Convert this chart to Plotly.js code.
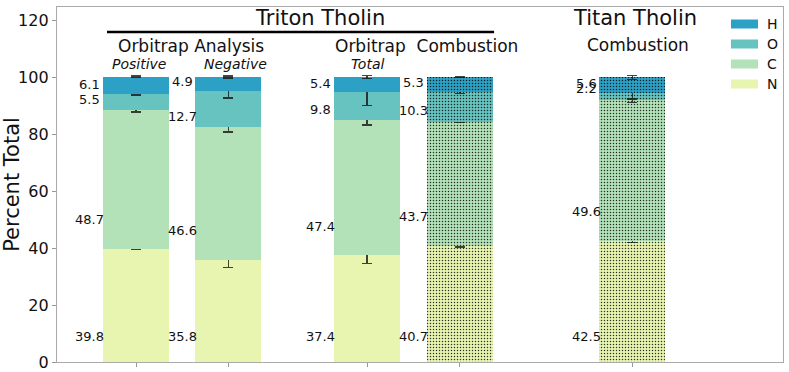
<!DOCTYPE html>
<html>
<head>
<meta charset="utf-8">
<script src="https://cdn.plot.ly/plotly-3.0.1.min.js"></script>
<style>html,body{margin:0;padding:0;background:#fff;}#chart{width:789px;height:372px;}</style>
</head>
<body>
<div id="chart"></div>
<script>
// ---- data ----
var barNames = ["Triton Orbitrap Positive", "Triton Orbitrap Negative", "Triton Orbitrap Total", "Triton Combustion", "Titan Combustion"];
var barX = [0, 1, 2.5, 3.5, 5.37];
var hatched = [false, false, false, true, true];
var elements = ["N", "C", "O", "H"];
var N_vals = [39.8, 35.8, 37.4, 40.7, 42.5];
var C_vals = [48.7, 46.6, 47.4, 43.7, 49.6];
var O_vals = [5.5, 12.7, 9.8, 10.3, 2.2];
var H_vals = [6.1, 4.9, 5.4, 5.3, 5.6];
var N_err = [0.3, 2.7, 2.8, 0.3, 0.5];
var C_err = [0.8, 1.7, 1.7, 0.3, 1.0];
var O_err = [0.2, 2.5, 4.5, 0.4, 2.0];
var H_err = [0.2, 0.4, 0.5, 0.2, 0.7];
var yTicks = [0, 20, 40, 60, 80, 100, 120];

// ---- style ----
var colors = {N: "#e8f5b1", C: "#b3e2b9", O: "#66c3bf", H: "#2ca1c5"};
var labelOffset = {N: 9, C: 10.3, O: 3.8, H: 3.3};
var FONT = "DejaVu Sans, sans-serif";

var series = {N: N_vals, C: C_vals, O: O_vals, H: H_vals};
var errs = {N: N_err, C: C_err, O: O_err, H: H_err};

var traces = elements.map(function (el) {
  return {
    type: "bar",
    name: el,
    x: barX,
    y: series[el],
    width: 0.714,
    marker: {
      color: colors[el],
      line: {width: 0},
      pattern: {
        shape: hatched.map(function (h) { return h ? "." : ""; }),
        fillmode: "overlay",
        fgcolor: "#000",
        fgopacity: 0.8,
        size: 3,
        solidity: 0.2
      }
    },
    error_y: {type: "data", array: errs[el], visible: true, color: "rgba(20,20,20,0.8)", thickness: 1.5, width: 5},
    showlegend: false,
    hoverinfo: "x+y+name"
  };
});

var annotations = [];
// value labels
barX.forEach(function (x, i) {
  var bottom = 0;
  elements.forEach(function (el) {
    var v = series[el][i];
    annotations.push({
      x: x - 0.5, y: bottom + labelOffset[el], xref: "x", yref: "y",
      text: v.toFixed(1), showarrow: false, xanchor: "center", yanchor: "middle",
      font: {family: FONT, size: 13, color: "#111"}
    });
    bottom += v;
  });
});

function hdr(text, x, y, size, italic) {
  annotations.push({
    x: x, y: y, xref: "x", yref: "y", text: italic ? "<i>" + text + "</i>" : text,
    showarrow: false, xanchor: "center", yanchor: "middle", borderpad: 0,
    font: {family: FONT, size: size, color: "#111"}
  });
}
hdr("Triton Tholin", 1.99, 120.6, 21);
hdr("Titan Tholin", 5.395, 120.6, 21);
hdr("Orbitrap Analysis", 0.595, 110.8, 17);
hdr("Orbitrap  Combustion", 3.14, 110.8, 17);
hdr("Combustion", 5.43, 111.4, 17);
hdr("Positive", 0.03, 104.6, 14, true);
hdr("Negative", 1.08, 104.6, 14, true);
hdr("Total", 2.5, 104.6, 14, true);

var shapes = [
  {type: "line", xref: "x", yref: "y", x0: -0.314, x1: 3.874, y0: 115.8, y1: 115.8, line: {color: "#000", width: 2.5}}
];

// manual legend (top right)
var legendOrder = ["H", "O", "C", "N"];
legendOrder.forEach(function (el, k) {
  var py = 24 + k * 20;           // pixel row centre
  var yc = (362 - py) / 355;      // paper coords
  shapes.push({type: "rect", xref: "paper", yref: "paper",
    x0: (731 - 57) / 726, x1: (758 - 57) / 726, y0: yc - 4.5 / 355, y1: yc + 4.5 / 355,
    fillcolor: colors[el], line: {width: 0}});
  annotations.push({x: (766 - 57) / 726, y: yc, xref: "paper", yref: "paper", text: el,
    showarrow: false, xanchor: "left", yanchor: "middle", borderpad: 0,
    font: {family: FONT, size: 14, color: "#111"}});
});

var layout = {
  width: 789, height: 372,
  margin: {l: 57, r: 6, t: 7, b: 10},
  paper_bgcolor: "#fff", plot_bgcolor: "#fff",
  barmode: "stack",
  showlegend: false,
  font: {family: FONT, size: 16, color: "#111"},
  xaxis: {
    range: [-0.855, 7.0], tickvals: barX, ticktext: barX.map(function () { return ""; }),
    ticks: "outside", ticklen: 4, tickcolor: "#999", showgrid: false, zeroline: false,
    showline: true, mirror: true, linecolor: "#aaa", linewidth: 1.2, fixedrange: true
  },
  yaxis: {
    range: [0, 124.6], tickvals: yTicks, ticks: "outside", ticklen: 4, tickcolor: "#999",
    tickfont: {family: FONT, size: 16, color: "#111"},
    showgrid: false, zeroline: false, showline: true, mirror: true, linecolor: "#aaa", linewidth: 1.2,
    title: {text: "Percent Total", font: {family: FONT, size: 21, color: "#111"}, standoff: 5}
  },
  shapes: shapes,
  annotations: annotations
};

Plotly.newPlot("chart", traces, layout, {staticPlot: true, displayModeBar: false});
</script>
</body>
</html>
